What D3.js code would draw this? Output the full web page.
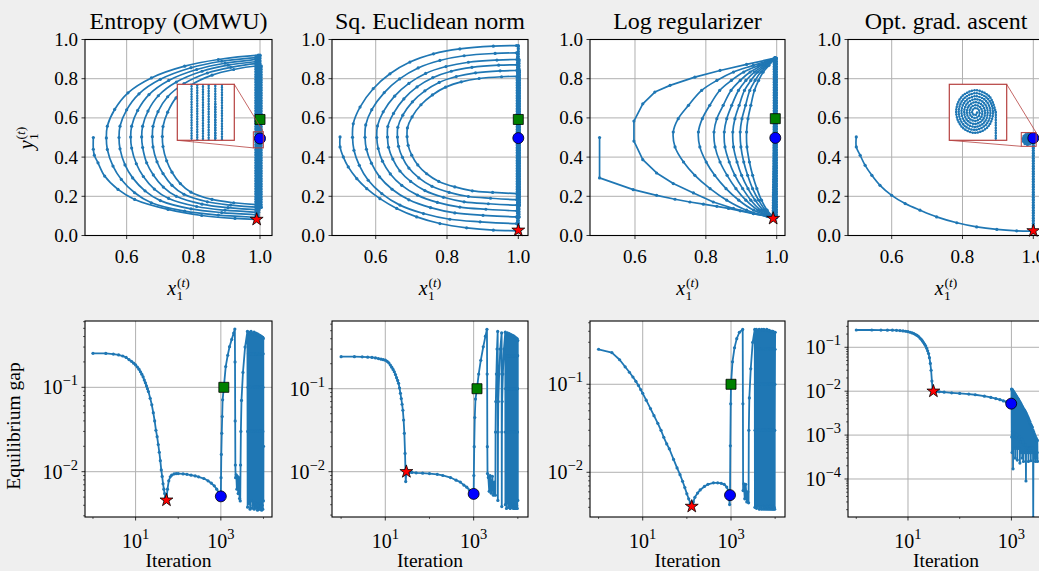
<!DOCTYPE html>
<html>
<head>
<meta charset="utf-8">
<script src="https://cdn.jsdelivr.net/npm/d3@7"></script>
<style>
  html, body { margin: 0; padding: 0; background: #efefef; }
  svg { display: block; font-family: "Liberation Serif", "Times New Roman", serif; }
</style>
</head>
<body>
<script>
// ---------------- data ----------------
const titles = ["Entropy (OMWU)", "Sq. Euclidean norm", "Log regularizer", "Opt. grad. ascent"];
const topXTicks = [0.6, 0.8, 1.0];
const topYTicks = [0.0, 0.2, 0.4, 0.6, 0.8, 1.0];
const botXTicks = [10, 1000];
const botXTickExp = ["1", "3"];
const botYTicks = [[0.1, 0.01], [0.1, 0.01], [0.1, 0.01], [0.1, 0.01, 0.001, 0.0001]];
const botYTickExp = [["\u22121", "\u22122"], ["\u22121", "\u22122"], ["\u22121", "\u22122"], ["\u22121", "\u22122", "\u22123", "\u22124"]];

// --- Entropy (OMWU) trajectory ---
const entStart = [[0.5,0.5],[0.5,0.44],[0.503,0.41],[0.514,0.371],[0.534,0.303],[0.574,0.235],[0.624,0.184],[0.724,0.133],[0.825,0.102],[0.925,0.087],[0.99,0.082]];
const entArcs = [
  [[0.995,0.920],[0.875,0.898],[0.774,0.864],[0.674,0.804],[0.604,0.728],[0.564,0.643],[0.542,0.558],[0.539,0.498],[0.542,0.439],[0.559,0.354],[0.584,0.286],[0.624,0.218],[0.674,0.167],[0.774,0.124],[0.875,0.104],[0.995,0.092]],
  [[0.995,0.910],[0.885,0.889],[0.793,0.856],[0.701,0.797],[0.637,0.723],[0.600,0.641],[0.580,0.558],[0.577,0.500],[0.580,0.442],[0.595,0.360],[0.618,0.294],[0.655,0.228],[0.701,0.178],[0.793,0.136],[0.885,0.117],[0.995,0.105]],
  [[0.996,0.900],[0.895,0.879],[0.810,0.847],[0.726,0.791],[0.667,0.719],[0.633,0.638],[0.615,0.558],[0.612,0.502],[0.615,0.446],[0.629,0.366],[0.650,0.301],[0.683,0.237],[0.726,0.189],[0.810,0.148],[0.895,0.129],[0.996,0.118]],
  [[0.996,0.889],[0.904,0.869],[0.826,0.838],[0.749,0.783],[0.695,0.713],[0.664,0.635],[0.648,0.558],[0.645,0.503],[0.648,0.449],[0.660,0.371],[0.680,0.309],[0.710,0.247],[0.749,0.200],[0.826,0.160],[0.904,0.142],[0.996,0.131]],
  [[0.996,0.878],[0.912,0.858],[0.842,0.829],[0.772,0.775],[0.723,0.708],[0.694,0.632],[0.679,0.557],[0.677,0.504],[0.679,0.452],[0.691,0.376],[0.709,0.316],[0.736,0.256],[0.772,0.210],[0.842,0.172],[0.912,0.155],[0.996,0.144]],
  [[0.997,0.866],[0.921,0.847],[0.856,0.818],[0.793,0.767],[0.748,0.702],[0.723,0.629],[0.709,0.556],[0.707,0.505],[0.709,0.454],[0.720,0.381],[0.736,0.323],[0.761,0.265],[0.793,0.221],[0.856,0.184],[0.921,0.167],[0.997,0.157]]
];
const entStrands = [
  [[0.990,0.082],[1.0,0.45],[1.0,0.920]],
  [[0.9875,0.092],[0.9875,0.910]],
  [[0.9905,0.105],[0.9905,0.900]],
  [[0.9935,0.118],[0.9935,0.889]],
  [[0.9965,0.131],[0.9965,0.878]],
  [[1.0035,0.144],[1.0035,0.866]],
  [[1.0,0.157],[1.0,0.50]]
];
const entMarks = { star: [0.99, 0.082], circle: [1.0, 0.495], square: [1.0, 0.592] };

// --- Sq. Euclidean norm trajectory ---
const eucStart = [[0.5,0.503],[0.5,0.452],[0.509,0.401],[0.523,0.350],[0.547,0.290],[0.575,0.239],[0.612,0.188],[0.659,0.138],[0.715,0.095],[0.780,0.061],[0.855,0.039],[0.930,0.027],[1.0,0.024]];
const eucArcs = [
  [[0.995,0.969],[0.930,0.966],[0.836,0.952],[0.762,0.927],[0.696,0.885],[0.640,0.825],[0.593,0.749],[0.556,0.655],[0.537,0.570],[0.535,0.501],[0.539,0.435],[0.554,0.358],[0.579,0.282],[0.617,0.214],[0.668,0.155],[0.734,0.112],[0.808,0.083],[0.893,0.070],[0.995,0.061]],
  [[0.995,0.932],[0.935,0.929],[0.848,0.917],[0.780,0.893],[0.719,0.855],[0.667,0.799],[0.624,0.729],[0.589,0.642],[0.572,0.564],[0.570,0.501],[0.574,0.440],[0.588,0.369],[0.611,0.299],[0.646,0.236],[0.693,0.182],[0.754,0.142],[0.822,0.115],[0.901,0.103],[0.995,0.095]],
  [[0.996,0.898],[0.940,0.895],[0.860,0.884],[0.797,0.862],[0.740,0.827],[0.693,0.776],[0.653,0.711],[0.621,0.631],[0.605,0.559],[0.603,0.500],[0.607,0.444],[0.619,0.379],[0.641,0.314],[0.673,0.256],[0.717,0.206],[0.773,0.169],[0.836,0.145],[0.909,0.134],[0.996,0.126]],
  [[0.996,0.871],[0.945,0.869],[0.870,0.858],[0.812,0.838],[0.760,0.805],[0.716,0.758],[0.679,0.697],[0.650,0.623],[0.634,0.556],[0.633,0.502],[0.636,0.450],[0.648,0.390],[0.668,0.329],[0.698,0.276],[0.738,0.229],[0.790,0.195],[0.848,0.172],[0.916,0.162],[0.996,0.155]],
  [[0.996,0.842],[0.949,0.840],[0.880,0.830],[0.826,0.811],[0.778,0.781],[0.738,0.738],[0.703,0.682],[0.676,0.614],[0.662,0.552],[0.661,0.502],[0.664,0.455],[0.675,0.399],[0.693,0.344],[0.721,0.294],[0.758,0.251],[0.806,0.220],[0.860,0.199],[0.922,0.190],[0.996,0.183]],
  [[0.997,0.812],[0.953,0.810],[0.890,0.801],[0.840,0.784],[0.796,0.757],[0.759,0.717],[0.727,0.667],[0.702,0.605],[0.689,0.549],[0.688,0.504],[0.691,0.460],[0.701,0.410],[0.718,0.360],[0.743,0.315],[0.777,0.276],[0.822,0.248],[0.871,0.228],[0.928,0.220],[0.997,0.214]]
];
const eucStrands = [
  [[1.0,0.024],[1.0,0.969]],
  [[0.998,0.061],[0.998,0.932]],
  [[1.002,0.095],[1.002,0.898]],
  [[0.999,0.126],[0.999,0.871]],
  [[1.003,0.155],[1.003,0.842]],
  [[0.997,0.183],[0.997,0.812]],
  [[1.001,0.214],[1.001,0.50]]
];
const eucMarks = { star: [1.0, 0.027], circle: [1.0, 0.497], square: [1.0, 0.592] };

// --- Log regularizer trajectory ---
const logStart = [[0.5,0.5],[0.5,0.294],[0.595,0.234],[0.661,0.205],[0.713,0.185],[0.755,0.171],[0.793,0.160],[0.831,0.149],[0.864,0.138],[0.897,0.126],[0.934,0.112],[0.972,0.098],[0.99,0.087]];
const logOuterArc = [[0.995,0.905],[0.915,0.873],[0.840,0.842],[0.769,0.808],[0.699,0.766],[0.656,0.732],[0.622,0.672],[0.597,0.584],[0.597,0.482],[0.622,0.387],[0.661,0.319],[0.708,0.265],[0.765,0.217],[0.821,0.171],[0.878,0.138],[0.934,0.112],[0.99,0.092]];
const logInnerY = [0.905,0.868,0.834,0.791,0.740,0.664,0.596,0.528,0.452,0.375,0.307,0.239,0.180,0.129,0.092];
const logInnerX = [
  [0.995,0.934,0.878,0.831,0.788,0.751,0.722,0.708,0.713,0.737,0.769,0.812,0.859,0.915,0.990],
  [0.995,0.949,0.907,0.872,0.839,0.811,0.790,0.779,0.783,0.801,0.825,0.857,0.893,0.935,0.991],
  [0.995,0.958,0.925,0.897,0.871,0.849,0.831,0.823,0.826,0.840,0.860,0.885,0.913,0.947,0.992],
  [0.995,0.965,0.937,0.913,0.892,0.873,0.859,0.852,0.854,0.866,0.882,0.904,0.927,0.955,0.993],
  [0.995,0.970,0.946,0.927,0.909,0.894,0.882,0.876,0.878,0.888,0.901,0.919,0.939,0.962,0.993],
  [0.995,0.974,0.955,0.939,0.924,0.912,0.902,0.897,0.899,0.907,0.918,0.932,0.949,0.968,0.993],
  [0.995,0.978,0.962,0.949,0.937,0.927,0.919,0.915,0.916,0.923,0.932,0.944,0.957,0.973,0.994]
];
const logStrands = [
  [[0.990,0.087],[0.996,0.905]],
  [[0.994,0.092],[0.994,0.905]],
  [[0.998,0.092],[0.998,0.905]],
  [[0.993,0.092],[0.993,0.905]],
  [[0.997,0.092],[0.997,0.905]],
  [[0.995,0.092],[0.995,0.905]],
  [[0.999,0.092],[0.999,0.905]],
  [[0.994,0.092],[0.994,0.905]],
  [[0.996,0.092],[0.996,0.50]]
];
const logMarks = { star: [0.99, 0.087], circle: [0.996, 0.498], square: [0.996, 0.596] };

// --- Opt. grad. ascent trajectory ---
const ogaStart = [[0.5,0.503],[0.5,0.452],[0.511,0.409],[0.525,0.358],[0.544,0.307],[0.567,0.256],[0.6,0.205],[0.638,0.163],[0.680,0.129],[0.727,0.095],[0.784,0.065],[0.840,0.044],[0.897,0.031],[0.953,0.024],[0.995,0.022],[1.0,0.022]];
const ogaStrand = [[1.0,0.022],[1.0,0.49]];
const ogaSpiral = [
  [1.0000,0.4900],[0.9954,0.5098],[0.9850,0.5176],[0.9749,0.5092],[0.9710,0.4900],[0.9753,0.4715],[0.9850,0.4643],[0.9944,0.4721],
  [0.9980,0.4900],[0.9941,0.5072],[0.9850,0.5138],[0.9763,0.5065],[0.9729,0.4900],[0.9766,0.4741],[0.9850,0.4680],[0.9930,0.4748],
  [0.9961,0.4900],[0.9927,0.5046],[0.9850,0.5101],[0.9777,0.5039],[0.9749,0.4900],[0.9780,0.4768],[0.9850,0.4717],[0.9916,0.4774],
  [0.9941,0.4900],[0.9913,0.5019],[0.9850,0.5064],[0.9791,0.5012],[0.9769,0.4900],[0.9794,0.4794],[0.9850,0.4755],[0.9902,0.4800],
  [0.9922,0.4900],[0.9899,0.4993],[0.9850,0.5027],[0.9805,0.4986],[0.9788,0.4900],[0.9808,0.4820],[0.9850,0.4792],[0.9889,0.4827],
  [0.9902,0.4900],[0.9885,0.4966],[0.9850,0.4989],[0.9818,0.4960],[0.9808,0.4900],[0.9822,0.4846],[0.9850,0.4829],[0.9875,0.4853],
  [0.9882,0.4900],[0.9871,0.4940],[0.9850,0.4952],[0.9832,0.4934],[0.9827,0.4900],[0.9836,0.4873],[0.9850,0.4866],[0.9861,0.4879],
  [0.9863,0.4900]
];
const ogaMarks = { star: [1.0, 0.024], circle: [1.0, 0.497] };

// --- equilibrium gap vs iteration ---
const entGap = [[1,0.253],[2,0.252],[3,0.248],[4,0.242],[5,0.235],[6,0.226],[7,0.213],[8,0.203],[9,0.193],[10,0.184],[11,0.174],[12,0.164],[13,0.153],[14,0.143],[15,0.133],[16,0.122],[17,0.113],[18,0.104],[19,0.096],[20,0.089],[22,0.074],[24,0.062],[26,0.050],[28,0.040],[30,0.031],[32,0.026],[34,0.021],[36,0.017],[38,0.0135],[40,0.0105],[42,0.0088],[44,0.0072],[46,0.0062],[48,0.0055],[50,0.0050],[53,0.0046],[56,0.0062],[60,0.0078],[65,0.0087],[70,0.0091],[80,0.0094],[90,0.0095],[100,0.0095],[130,0.0094],[160,0.0093],[200,0.0091],[250,0.0089],[300,0.0087],[400,0.0083],[500,0.0078],[600,0.0073],[700,0.0068],[800,0.0062],[900,0.0056],[1000,0.0051],
  [1010,0.0085],[1025,0.016],[1050,0.0285],[1075,0.045],[1100,0.071],[1175,0.10],[1300,0.176],[1450,0.24],[1600,0.303],[1800,0.37],[2000,0.44],[2130,0.49],
  [2150,0.2],[2170,0.04],[2190,0.012],[2220,0.0085],[2300,0.0092],[2380,0.0062],[2450,0.0088],[2550,0.0055],[2650,0.0085],[2750,0.0048],[2850,0.0045],
  [2900,0.012],[2950,0.03],[3050,0.07],[3300,0.15],[3700,0.3],[4200,0.46],[4250,0.0038],
  [4265,0.03],[4340,0.1],[4430,0.25],[4520,0.45],[4550,0.0042],
  [4565,0.03],[4640,0.1],[4730,0.25],[4820,0.43],[4850,0.0036],
  [4865,0.03],[4940,0.1],[5030,0.25],[5120,0.46],[5150,0.0045],
  [5165,0.03],[5240,0.1],[5330,0.25],[5420,0.44],[5450,0.0037],
  [5465,0.03],[5540,0.1],[5630,0.25],[5720,0.43],[5750,0.0040],
  [5765,0.03],[5840,0.1],[5930,0.25],[6020,0.45],[6050,0.0036],
  [6065,0.03],[6140,0.1],[6230,0.25],[6320,0.42],[6350,0.0043],
  [6365,0.03],[6440,0.1],[6530,0.25],[6620,0.44],[6650,0.0037],
  [6665,0.03],[6740,0.1],[6830,0.25],[6920,0.42],[6950,0.0041],
  [6965,0.03],[7040,0.1],[7130,0.25],[7220,0.43],[7250,0.0035],
  [7265,0.03],[7340,0.1],[7430,0.25],[7520,0.41],[7550,0.0040],
  [7565,0.03],[7640,0.1],[7730,0.25],[7820,0.42],[7850,0.0036],
  [7865,0.03],[7940,0.1],[8030,0.25],[8120,0.40],[8150,0.0042],
  [8165,0.03],[8240,0.1],[8330,0.25],[8420,0.41],[8450,0.0036],
  [8465,0.03],[8540,0.1],[8630,0.25],[8720,0.40],[8750,0.0039],
  [8765,0.03],[8840,0.1],[8930,0.25],[9020,0.40],[9050,0.0035],
  [9065,0.03],[9140,0.1],[9230,0.25],[9320,0.39],[9350,0.0040],
  [9365,0.03],[9440,0.1],[9530,0.25],[9620,0.39],[9650,0.0036],
  [9665,0.03],[9740,0.1],[9830,0.25],[9920,0.38],[9950,0.0045],[10000,0.02]];
const entGapMarks = { star: [53, 0.0046], circle: [1000, 0.0051], square: [1175, 0.1] };

const eucGap = [[1,0.243],[2,0.243],[3,0.242],[4,0.240],[5,0.238],[6,0.235],[7,0.231],[8,0.227],[9,0.224],[10,0.221],[11,0.214],[12,0.205],[13,0.193],[14,0.182],[15,0.171],[16,0.160],[17,0.148],[18,0.136],[19,0.126],[20,0.116],[21,0.102],[22,0.088],[23,0.076],[24,0.065],[25,0.055],[26,0.042],[27,0.029],[28,0.0166],[29,0.0076],[30,0.0100],[32,0.0099],[35,0.0098],[40,0.0098],[50,0.0097],[70,0.0096],[100,0.0095],[150,0.0093],[200,0.0090],[300,0.0085],[400,0.0079],[500,0.0075],[600,0.0069],[700,0.0065],[800,0.0060],[900,0.0057],[1000,0.0054],
  [1010,0.009],[1030,0.02],[1060,0.045],[1100,0.075],[1190,0.10],[1300,0.15],[1450,0.22],[1650,0.32],[1850,0.43],[2000,0.52],
  [2020,0.15],[2040,0.02],[2060,0.0095],[2150,0.0085],[2250,0.0058],[2350,0.0090],[2500,0.0055],[2650,0.0088],[2800,0.0052],[2950,0.0075],[3100,0.0052],
  [3130,0.03],[3180,0.07],[3270,0.15],[3380,0.3],[3500,0.49],[3530,0.0045],
  [3560,0.03],[3610,0.07],[3780,0.15],[4000,0.3],[4300,0.47],[4330,0.0038],
  [4360,0.03],[4410,0.07],[4580,0.15],[4850,0.3],[5200,0.48],[5230,0.0040],
  [5245,0.03],[5320,0.1],[5410,0.25],[5500,0.46],[5530,0.0036],
  [5545,0.03],[5620,0.1],[5710,0.25],[5800,0.47],[5830,0.0042],
  [5845,0.03],[5920,0.1],[6010,0.25],[6100,0.45],[6130,0.0037],
  [6145,0.03],[6220,0.1],[6310,0.25],[6400,0.46],[6430,0.0041],
  [6445,0.03],[6520,0.1],[6610,0.25],[6700,0.44],[6730,0.0036],
  [6745,0.03],[6820,0.1],[6910,0.25],[7000,0.45],[7030,0.0040],
  [7045,0.03],[7120,0.1],[7210,0.25],[7300,0.43],[7330,0.0037],
  [7345,0.03],[7420,0.1],[7510,0.25],[7600,0.44],[7630,0.0041],
  [7645,0.03],[7720,0.1],[7810,0.25],[7900,0.42],[7930,0.0036],
  [7945,0.03],[8020,0.1],[8110,0.25],[8200,0.43],[8230,0.0039],
  [8245,0.03],[8320,0.1],[8410,0.25],[8500,0.42],[8530,0.0036],
  [8545,0.03],[8620,0.1],[8710,0.25],[8800,0.41],[8830,0.0040],
  [8845,0.03],[8920,0.1],[9010,0.25],[9100,0.41],[9130,0.0036],
  [9145,0.03],[9220,0.1],[9310,0.25],[9400,0.40],[9430,0.0039],
  [9445,0.03],[9520,0.1],[9610,0.25],[9700,0.40],[9730,0.0036],
  [9745,0.03],[9820,0.1],[9910,0.25],[9980,0.38],[10000,0.0045]];
const eucGapMarks = { star: [30, 0.0100], circle: [1000, 0.0054], square: [1190, 0.1] };

const logGap = [[1,0.25],[2,0.229],[3,0.19],[4,0.158],[5,0.137],[6,0.121],[7,0.108],[8,0.097],[9,0.087],[10,0.079],[12,0.066],[15,0.053],[18,0.044],[22,0.036],[26,0.030],[30,0.025],[35,0.021],[40,0.0185],[50,0.0140],[60,0.0112],[70,0.0094],[80,0.0079],[90,0.0067],[100,0.0057],[110,0.0050],[120,0.0045],[129,0.0041],[140,0.0046],[152,0.0052],[175,0.0058],[200,0.0063],[250,0.0069],[300,0.0073],[400,0.0076],[500,0.0076],[600,0.0075],[700,0.0073],[800,0.0068],[870,0.0062],[910,0.0050],[930,0.0043],[950,0.0055],
  [965,0.02],[985,0.06],[1000,0.1],[1080,0.18],[1200,0.26],[1350,0.33],[1550,0.39],[1840,0.42],
  [1860,0.06],[1880,0.0062],[1950,0.0074],[2050,0.0050],[2150,0.0073],[2280,0.0046],[2400,0.0060],[2500,0.0045],
  [2530,0.03],[2600,0.07],[2800,0.15],[3100,0.3],[3450,0.42],[3480,0.0040],
  [3495,0.03],[3570,0.1],[3660,0.25],[3750,0.42],[3780,0.0039],
  [3795,0.03],[3870,0.1],[3960,0.25],[4050,0.41],[4080,0.0041],
  [4095,0.03],[4170,0.1],[4260,0.25],[4350,0.42],[4380,0.0038],
  [4395,0.03],[4470,0.1],[4560,0.25],[4650,0.41],[4680,0.0040],
  [4695,0.03],[4770,0.1],[4860,0.25],[4950,0.42],[4980,0.0038],
  [4995,0.03],[5070,0.1],[5160,0.25],[5250,0.41],[5280,0.0041],
  [5295,0.03],[5370,0.1],[5460,0.25],[5550,0.42],[5580,0.0038],
  [5595,0.03],[5670,0.1],[5760,0.25],[5850,0.41],[5880,0.0040],
  [5895,0.03],[5970,0.1],[6060,0.25],[6150,0.41],[6180,0.0038],
  [6195,0.03],[6270,0.1],[6360,0.25],[6450,0.42],[6480,0.0041],
  [6495,0.03],[6570,0.1],[6660,0.25],[6750,0.41],[6780,0.0038],
  [6795,0.03],[6870,0.1],[6960,0.25],[7050,0.41],[7080,0.0040],
  [7095,0.03],[7170,0.1],[7260,0.25],[7350,0.41],[7380,0.0038],
  [7395,0.03],[7470,0.1],[7560,0.25],[7650,0.40],[7680,0.0041],
  [7695,0.03],[7770,0.1],[7860,0.25],[7950,0.40],[7980,0.0038],
  [7995,0.03],[8070,0.1],[8160,0.25],[8250,0.40],[8280,0.0040],
  [8295,0.03],[8370,0.1],[8460,0.25],[8550,0.40],[8580,0.0038],
  [8595,0.03],[8670,0.1],[8760,0.25],[8850,0.40],[8880,0.0041],
  [8895,0.03],[8970,0.1],[9060,0.25],[9150,0.39],[9180,0.0038],
  [9195,0.03],[9270,0.1],[9360,0.25],[9450,0.39],[9480,0.0040],
  [9495,0.03],[9570,0.1],[9660,0.25],[9750,0.39],[9780,0.0038],
  [9795,0.03],[9870,0.1],[9940,0.25],[10000,0.39]];
const logGapMarks = { star: [129, 0.0041], circle: [950, 0.0055], square: [1000, 0.1] };

const ogaGap = [[1,0.248],[2,0.248],[3,0.247],[4,0.246],[5,0.245],[6,0.243],[7,0.240],[8,0.236],[9,0.232],[10,0.227],[11,0.220],[12,0.213],[13,0.205],[14,0.195],[15,0.186],[16,0.176],[17,0.163],[18,0.152],[19,0.140],[20,0.128],[21,0.117],[22,0.107],[23,0.095],[24,0.083],[25,0.072],[26,0.058],[27,0.043],[28,0.030],[29,0.017],[30,0.0105],[31,0.0100],[32,0.0099],[35,0.0098],[40,0.0097],[50,0.0095],[70,0.0092],[100,0.0089],[150,0.0086],[200,0.0083],[300,0.0077],[400,0.0072],[500,0.0068],[600,0.0064],[700,0.0060],[800,0.0057],[900,0.0054],[1000,0.0052],
  [1008,0.0112],[1015,0.0009],[1023,0.0110],[1030,0.0004],[1040,0.0107],[1050,0.0012],[1062,0.0104],[1075,0.00017],[1088,0.0099],[1100,0.0008],[1112,0.0095],[1125,0.0005],[1138,0.0092],[1150,0.0011],[1165,0.0087],[1180,0.0003],[1195,0.0084],[1210,0.0009],[1225,0.0079],[1240,0.0005],[1255,0.0076],[1270,0.0010],[1285,0.0072],[1300,0.00027],
  [1320,0.0069],[1340,0.0008],[1360,0.0066],[1380,0.0005],[1400,0.0062],[1420,0.0009],[1440,0.0058],[1460,0.00023],[1480,0.0055],[1500,0.0007],[1520,0.0052],[1540,0.0004],[1560,0.0049],[1580,0.0008],[1600,0.0046],[1620,0.0003],[1640,0.0044],[1660,0.0007],[1685,0.0041],[1710,0.00025],[1735,0.0039],[1760,0.0006],[1785,0.0037],[1810,0.0004],
  [1835,0.0035],[1860,0.0006],[1885,0.0033],[1910,0.00009],[1935,0.0031],[1960,0.0005],[1985,0.0029],[2010,0.0004],[2040,0.0027],[2070,0.0005],[2100,0.0025],[2130,0.00025],[2160,0.0023],[2190,0.0005],[2220,0.0021],[2250,0.0004],[2280,0.0020],[2310,0.0005],[2340,0.0018],[2370,0.00026],[2400,0.0017],[2430,0.0005],[2465,0.0016],[2500,0.0004],
  [2535,0.0015],[2570,0.0005],[2605,0.0013],[2640,0.000013],[2675,0.0012],[2710,0.0004],[2745,0.0011],[2780,0.0003],[2815,0.0010],[2850,0.0004],[2885,0.00095],[2920,0.00025],[2960,0.00088],[3000,0.0004],[3040,0.00082],[3080,0.0003],[3115,0.00078],[3150,0.0004],[3175,0.00075],[3200,0.00025]];
const ogaGapMarks = { star: [31, 0.0100], circle: [990, 0.0052] };

// ---------------- layout ----------------
const FIG_W = 1039, FIG_H = 571;
const BLUE = "#1f77b4", INSET_RED = "#b5403f", GRID = "#b0b0b0";
const LW = 1.7, DOT_R = 1.6;
const TOP_Y0 = 39.5, TOP_Y1 = 235.5, BOT_Y0 = 321, BOT_Y1 = 517;
const boxes = [{ x: 85, w: 187 }, { x: 332, w: 196 }, { x: 590, w: 195 }, { x: 848, w: 196 }];
const topXDomains = [[0.475, 1.036], [0.4774, 1.0272], [0.473, 1.0234], [0.4766, 1.0302]];
const botXLogDomains = [[-0.187, 4.2], [-0.206, 4.23], [-0.194, 4.223], [-0.16, 3.63]];
const botYLogDomains = [[-2.537, -0.214], [-2.546, -0.184], [-2.508, -0.281], [-4.866, -0.401]];

const svg = d3.select("body").append("svg").attr("width", FIG_W).attr("height", FIG_H);
svg.append("rect").attr("width", FIG_W).attr("height", FIG_H).attr("fill", "#efefef");
const defs = svg.append("defs");
let clipCount = 0;

function addClip(x, y, w, h) {
  const id = "clip" + (clipCount++);
  defs.append("clipPath").attr("id", id).append("rect").attr("x", x).attr("y", y).attr("width", w).attr("height", h);
  return `url(#${id})`;
}

// segments: {pts, curve, dense}
function drawTraj(g, x, y, segs, lw, beadW) {
  segs.forEach(s => {
    const line = d3.line().x(d => x(d[0])).y(d => y(d[1])).curve(s.curve || d3.curveLinear);
    g.append("path").attr("d", line(s.pts)).attr("fill", "none")
      .attr("stroke", BLUE).attr("stroke-width", lw).attr("stroke-linejoin", "round");
    if (s.dense) {
      // many iterates packed on this stretch: beaded look
      g.append("path").attr("d", line(s.pts)).attr("fill", "none")
        .attr("stroke", BLUE).attr("stroke-width", beadW).attr("stroke-linecap", "round")
        .attr("stroke-dasharray", "0 2.6");
    } else {
      g.selectAll(null).data(s.pts).join("circle")
        .attr("cx", d => x(d[0])).attr("cy", d => y(d[1])).attr("r", DOT_R).attr("fill", BLUE);
    }
  });
}

function drawMarkers(g, x, y, m) {
  if (m.square) g.append("path").attr("d", d3.symbol(d3.symbolSquare, 100)())
    .attr("transform", `translate(${x(m.square[0])},${y(m.square[1])})`)
    .attr("fill", "#008000").attr("stroke", "#000").attr("stroke-width", 0.8);
  if (m.circle) g.append("circle").attr("cx", x(m.circle[0])).attr("cy", y(m.circle[1])).attr("r", 5.5)
    .attr("fill", "#0000ff").attr("stroke", "#000").attr("stroke-width", 0.8);
  if (m.star) g.append("path").attr("d", d3.symbol(d3.symbolStar, 52)())
    .attr("transform", `translate(${x(m.star[0])},${y(m.star[1])})`)
    .attr("fill", "#ff0000").attr("stroke", "#000").attr("stroke-width", 0.8);
}

function mathLabel(parent, cx, cy, base, sub, rotate) {
  const g = parent.append("g").attr("transform", `translate(${cx},${cy})` + (rotate ? " rotate(-90)" : ""));
  const inner = g.append("g");
  const tb = inner.append("text").attr("font-style", "italic").attr("font-size", 20).text(base);
  const wb = tb.node().getComputedTextLength();
  const ts = inner.append("text").attr("x", wb + 1).attr("y", -8.5).attr("font-size", 13.5);
  ts.append("tspan").text("(");
  ts.append("tspan").attr("font-style", "italic").text("t");
  ts.append("tspan").text(")");
  const tsub = inner.append("text").attr("x", wb + 0.5).attr("y", 5).attr("font-size", 13.5).text(sub);
  const w = wb + 1 + Math.max(ts.node().getComputedTextLength(), tsub.node().getComputedTextLength());
  inner.attr("transform", `translate(${-w / 2},0)`);
}

function frame(g, bx, by, bw, bh) {
  g.append("rect").attr("x", bx).attr("y", by).attr("width", bw).attr("height", bh)
    .attr("fill", "none").attr("stroke", "#000").attr("stroke-width", 1.1);
}

function drawInset(g, segs, mx, my, box, dom) {
  const ix = d3.scaleLinear().domain(dom.x).range([box.x, box.x + box.w]);
  const iy = d3.scaleLinear().domain(dom.y).range([box.y + box.h, box.y]);
  const rx0 = mx(dom.x[0]), rx1 = mx(dom.x[1]), ry0 = my(dom.y[1]), ry1 = my(dom.y[0]);
  g.append("rect").attr("x", rx0).attr("y", ry0).attr("width", rx1 - rx0).attr("height", ry1 - ry0)
    .attr("fill", "none").attr("stroke", INSET_RED).attr("stroke-width", 1);
  g.append("line").attr("x1", box.x + box.w).attr("y1", box.y).attr("x2", rx1).attr("y2", ry0)
    .attr("stroke", INSET_RED).attr("stroke-width", 0.8);
  g.append("line").attr("x1", box.x).attr("y1", box.y + box.h).attr("x2", rx0).attr("y2", ry1)
    .attr("stroke", INSET_RED).attr("stroke-width", 0.8);
  g.append("rect").attr("x", box.x).attr("y", box.y).attr("width", box.w).attr("height", box.h).attr("fill", "#fff");
  const p = g.append("g").attr("clip-path", addClip(box.x, box.y, box.w, box.h));
  drawTraj(p, ix, iy, segs, 1.1, 2.5);
  g.append("rect").attr("x", box.x).attr("y", box.y).attr("width", box.w).attr("height", box.h)
    .attr("fill", "none").attr("stroke", INSET_RED).attr("stroke-width", 1.2);
}

function buildSegs(start, startCurve, arcs, arcCurves, strands) {
  const segs = [{ pts: start, curve: startCurve }];
  strands.forEach((s, k) => {
    segs.push({ pts: s, dense: true });
    if (k < arcs.length) {
      const next = strands[k + 1];
      const pts = [s[s.length - 1]].concat(arcs[k]);
      if (next) pts.push(next[0]);
      segs.push({ pts: pts, curve: arcCurves[k] });
    }
  });
  return segs;
}

function drawTopPanel(i, segs, marks, inset) {
  const b = boxes[i];
  const x = d3.scaleLinear().domain(topXDomains[i]).range([b.x, b.x + b.w]);
  const y = d3.scaleLinear().domain([0, 1]).range([TOP_Y1, TOP_Y0]);
  const g = svg.append("g");
  const h = TOP_Y1 - TOP_Y0;
  g.append("rect").attr("x", b.x).attr("y", TOP_Y0).attr("width", b.w).attr("height", h).attr("fill", "#fff");
  topXTicks.forEach(t => g.append("line").attr("x1", x(t)).attr("x2", x(t)).attr("y1", TOP_Y0).attr("y2", TOP_Y1)
    .attr("stroke", GRID).attr("stroke-width", 1));
  topYTicks.forEach(t => g.append("line").attr("x1", b.x).attr("x2", b.x + b.w).attr("y1", y(t)).attr("y2", y(t))
    .attr("stroke", GRID).attr("stroke-width", 1));
  const plot = g.append("g").attr("clip-path", addClip(b.x, TOP_Y0, b.w, h));
  drawTraj(plot, x, y, segs, LW, 3.4);
  frame(g, b.x, TOP_Y0, b.w, h);
  topXTicks.forEach(t => {
    g.append("line").attr("x1", x(t)).attr("x2", x(t)).attr("y1", TOP_Y1).attr("y2", TOP_Y1 + 3.5).attr("stroke", "#000").attr("stroke-width", 0.8);
    g.append("text").attr("x", x(t)).attr("y", TOP_Y1 + 27).attr("text-anchor", "middle").attr("font-size", 19).text(d3.format(".1f")(t));
  });
  topYTicks.forEach(t => {
    g.append("line").attr("x1", b.x - 3.5).attr("x2", b.x).attr("y1", y(t)).attr("y2", y(t)).attr("stroke", "#000").attr("stroke-width", 0.8);
    g.append("text").attr("x", b.x - 7).attr("y", y(t) + 6.5).attr("text-anchor", "end").attr("font-size", 19).text(d3.format(".1f")(t));
  });
  drawMarkers(g, x, y, marks);
  if (inset) drawInset(g, inset.segs, x, y, inset.box, inset.dom);
  g.append("text").attr("x", b.x + b.w / 2).attr("y", 29).attr("text-anchor", "middle").attr("font-size", 24).text(titles[i]);
  mathLabel(g, b.x + b.w / 2, 295, "x", "1", false);
}

function supText(g, x, y, anchor, base, exp) {
  const t = g.append("text").attr("x", x).attr("y", y).attr("text-anchor", anchor).attr("font-size", 20);
  t.append("tspan").text(base);
  t.append("tspan").attr("dy", -9).attr("font-size", 14.5).text(exp);
}

function drawBottomPanel(i, data, marks) {
  const b = boxes[i];
  const xd = botXLogDomains[i], yd = botYLogDomains[i];
  const x = d3.scaleLog().domain([10 ** xd[0], 10 ** xd[1]]).range([b.x, b.x + b.w]);
  const y = d3.scaleLog().domain([10 ** yd[0], 10 ** yd[1]]).range([BOT_Y1, BOT_Y0]);
  const g = svg.append("g");
  const h = BOT_Y1 - BOT_Y0;
  g.append("rect").attr("x", b.x).attr("y", BOT_Y0).attr("width", b.w).attr("height", h).attr("fill", "#fff");
  botXTicks.forEach(t => g.append("line").attr("x1", x(t)).attr("x2", x(t)).attr("y1", BOT_Y0).attr("y2", BOT_Y1)
    .attr("stroke", GRID).attr("stroke-width", 1));
  botYTicks[i].forEach(t => g.append("line").attr("x1", b.x).attr("x2", b.x + b.w).attr("y1", y(t)).attr("y2", y(t))
    .attr("stroke", GRID).attr("stroke-width", 1));
  const plot = g.append("g").attr("clip-path", addClip(b.x, BOT_Y0, b.w, h));
  const line = d3.line().x(d => x(d[0])).y(d => y(d[1]));
  plot.append("path").attr("d", line(data)).attr("fill", "none").attr("stroke", BLUE).attr("stroke-width", 1.8).attr("stroke-linejoin", "round");
  plot.selectAll(null).data(data).join("circle").attr("cx", d => x(d[0])).attr("cy", d => y(d[1])).attr("r", 1.6).attr("fill", BLUE);
  frame(g, b.x, BOT_Y0, b.w, h);
  botXTicks.forEach((t, k) => {
    g.append("line").attr("x1", x(t)).attr("x2", x(t)).attr("y1", BOT_Y1).attr("y2", BOT_Y1 + 3.5).attr("stroke", "#000").attr("stroke-width", 0.8);
    supText(g, x(t), BOT_Y1 + 31, "middle", "10", botXTickExp[k]);
  });
  botYTicks[i].forEach((t, k) => {
    g.append("line").attr("x1", b.x - 3.5).attr("x2", b.x).attr("y1", y(t)).attr("y2", y(t)).attr("stroke", "#000").attr("stroke-width", 0.8);
    supText(g, b.x - 7, y(t) + 7, "end", "10", botYTickExp[i][k]);
  });
  // minor ticks
  [1, 100, 10000].filter(v => Math.log10(v) > xd[0] && Math.log10(v) < xd[1]).forEach(v =>
    g.append("line").attr("x1", x(v)).attr("x2", x(v)).attr("y1", BOT_Y1).attr("y2", BOT_Y1 + 2).attr("stroke", "#000").attr("stroke-width", 0.6));
  for (let e = Math.floor(yd[0]); e <= Math.ceil(yd[1]); e++) {
    for (let m = 2; m <= 9; m++) {
      const v = m * 10 ** e;
      if (Math.log10(v) > yd[0] && Math.log10(v) < yd[1]) {
        g.append("line").attr("x1", b.x - 2).attr("x2", b.x).attr("y1", y(v)).attr("y2", y(v)).attr("stroke", "#000").attr("stroke-width", 0.6);
      }
    }
  }
  drawMarkers(g, x, y, marks);
  g.append("text").attr("x", b.x + b.w / 2).attr("y", 567).attr("text-anchor", "middle").attr("font-size", 19.5).text("Iteration");
}

// ---------------- assemble ----------------
const cr = d3.curveCatmullRom.alpha(0.5);

const entSegs = buildSegs(entStart, cr, entArcs, entArcs.map(() => cr), entStrands);
const eucSegs = buildSegs(eucStart, cr, eucArcs, eucArcs.map(() => cr), eucStrands);
const logArcs = [logOuterArc].concat(logInnerX.map(xs => xs.map((v, k) => [v, logInnerY[k]])));
const logSegs = buildSegs(logStart, d3.curveLinear, logArcs, logArcs.map((a, k) => k === 0 ? d3.curveLinear : cr), logStrands);
const ogaSegs = [
  { pts: ogaStart, curve: cr },
  { pts: ogaStrand, dense: true },
  { pts: ogaSpiral, curve: cr, dense: true }
];

drawTopPanel(0, entSegs, entMarks, {
  segs: entSegs,
  box: { x: 177.3, y: 84.3, w: 57, h: 56 },
  dom: { x: [0.980, 1.010], y: [0.447, 0.529] }
});
drawTopPanel(1, eucSegs, eucMarks);
drawTopPanel(2, logSegs, logMarks);
drawTopPanel(3, ogaSegs, ogaMarks, {
  segs: ogaSegs,
  box: { x: 949.3, y: 84.3, w: 57.4, h: 56 },
  dom: { x: [0.966, 1.008], y: [0.455, 0.525] }
});

drawBottomPanel(0, entGap, entGapMarks);
drawBottomPanel(1, eucGap, eucGapMarks);
drawBottomPanel(2, logGap, logGapMarks);
drawBottomPanel(3, ogaGap, ogaGapMarks);

// y labels
mathLabel(svg, 33, 138, "y", "1", true);
svg.append("text").attr("transform", "translate(19.5,426) rotate(-90)").attr("text-anchor", "middle")
  .attr("font-size", 19.5).text("Equilibrium gap");
</script>
</body>
</html>
